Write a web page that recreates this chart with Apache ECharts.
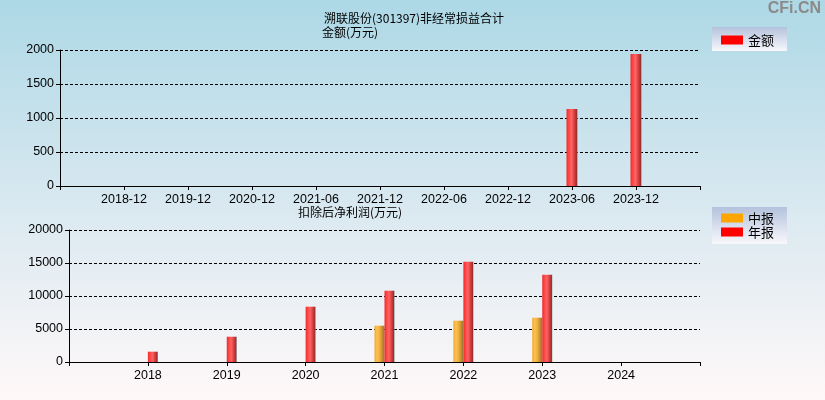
<!DOCTYPE html>
<html><head><meta charset="utf-8">
<script src="https://cdn.jsdelivr.net/npm/echarts@6/dist/echarts.min.js"></script>
<style>html,body{margin:0;padding:0;}#c{width:825px;height:400px;}</style>
</head><body><div id="c"></div>
<script>
// Top chart: 非经常损益合计 金额(万元)
const topCategories = ['', '2018-12', '2019-12', '2020-12', '2021-06', '2021-12', '2022-06', '2022-12', '2023-06', '2023-12', ''];
const topValues = [null, null, null, null, null, null, null, null, 1132, 1941, null];
const topTicks = [0, 500, 1000, 1500, 2000];
// Bottom chart: 扣除后净利润(万元)
const botCategories = ['', '2018', '2019', '2020', '2021', '2022', '2023', '2024', ''];
const midValues = [null, null, null, null, 5500, 6260, 6710, null, null];
const annualValues = [null, 1560, 3830, 8380, 10800, 15200, 13230, null, null];
const botTicks = [0, 5000, 10000, 15000, 20000];

const G = echarts.graphic.LinearGradient;
const redGrad = new G(0, 0, 1, 0, [
  {offset: 0, color: '#f02828'}, {offset: 0.2, color: '#ff4444'}, {offset: 0.45, color: '#ff6464'},
  {offset: 0.75, color: '#d03a3a'}, {offset: 0.92, color: '#9a3030'}, {offset: 1, color: '#808080'}]);
const orangeGrad = new G(0, 0, 1, 0, [
  {offset: 0, color: '#f0a828'}, {offset: 0.25, color: '#ffc050'}, {offset: 0.5, color: '#f0b040'},
  {offset: 0.8, color: '#c08a30'}, {offset: 1, color: '#907040'}]);

const font = 'Liberation Sans, Arial, sans-serif';
const cjk = '"Noto Sans CJK SC", sans-serif';

function yAxis(idx, ticks) {
  return {
    type: 'value', gridIndex: idx, min: ticks[0], max: ticks[ticks.length - 1], interval: ticks[1] - ticks[0],
    axisLine: {show: true, lineStyle: {color: '#000', width: 1}},
    axisTick: {show: true, length: 4, lineStyle: {color: '#000'}},
    axisLabel: {color: '#000', fontSize: 12.5, fontFamily: font, margin: 6, formatter: v => String(v)},
    splitLine: {show: true, lineStyle: {color: '#000', type: [3, 2], width: 1}}
  };
}
function xAxis(idx, cats) {
  return {
    type: 'category', gridIndex: idx, data: cats, boundaryGap: false,
    axisLine: {show: true, lineStyle: {color: '#000', width: 1}},
    axisTick: {show: true, length: 4, alignWithLabel: true, interval: 0, lineStyle: {color: '#000'}},
    axisLabel: {color: '#000', fontSize: 12.5, fontFamily: font, margin: 7, interval: 0},
    splitLine: {show: false}
  };
}
const legendBg = new G(0, 0, 0, 1, [{offset: 0, color: '#b4c2dc'}, {offset: 1, color: '#f8f8fc'}]);

const chart = echarts.init(document.getElementById('c'));
chart.setOption({
  animation: false,
  backgroundColor: new G(0, 0, 0, 1, [{offset: 0, color: '#add8e6'}, {offset: 0.5, color: '#d8e8f0'}, {offset: 1, color: '#fff8f8'}]),
  title: [
    {text: '溯联股份(301397)非经常损益合计', left: 319, top: 7, textStyle: {fontSize: 12, fontWeight: 'normal', color: '#000', fontFamily: cjk}},
    {text: '金额(万元)', left: 317, top: 21, textStyle: {fontSize: 12, fontWeight: 'normal', color: '#000', fontFamily: cjk}},
    {text: '扣除后净利润(万元)', left: 293, top: 201, textStyle: {fontSize: 12, fontWeight: 'normal', color: '#000', fontFamily: cjk}}
  ],
  graphic: [{type: 'text', right: 4, top: 1, style: {text: 'CFi.CN', fontSize: 16, fontWeight: 'bold', fill: '#8a8a8a', fontFamily: font}}],
  legend: [
    {left: 712, top: 27, orient: 'vertical', padding: [6, 13, 4, 9], itemWidth: 22, itemHeight: 9, itemGap: 0,
     backgroundColor: legendBg, icon: 'rect',
     textStyle: {fontSize: 13, color: '#000', fontFamily: cjk, lineHeight: 14},
     data: [{name: '金额', itemStyle: {color: '#ff0000'}}]},
    {left: 712, top: 207, orient: 'vertical', padding: [4, 13, 5, 9], itemWidth: 22, itemHeight: 9, itemGap: 0,
     backgroundColor: legendBg, icon: 'rect',
     textStyle: {fontSize: 13, color: '#000', fontFamily: cjk, lineHeight: 14},
     data: [{name: '中报', itemStyle: {color: '#ffa500'}}, {name: '年报', itemStyle: {color: '#ff0000'}}]}
  ],
  grid: [
    {left: 60, top: 50, width: 640, height: 136},
    {left: 69, top: 230, width: 631, height: 132}
  ],
  xAxis: [xAxis(0, topCategories), xAxis(1, botCategories)],
  yAxis: [yAxis(0, topTicks), yAxis(1, botTicks)],
  series: [
    {name: '金额', type: 'bar', xAxisIndex: 0, yAxisIndex: 0, data: topValues, barWidth: 11, itemStyle: {color: redGrad}},
    {name: '中报', type: 'bar', xAxisIndex: 1, yAxisIndex: 1, data: midValues, barWidth: 10, barGap: '0%', itemStyle: {color: orangeGrad}},
    {name: '年报', type: 'bar', xAxisIndex: 1, yAxisIndex: 1, data: annualValues, barWidth: 10, barGap: '0%', itemStyle: {color: redGrad}}
  ]
});
</script></body></html>
